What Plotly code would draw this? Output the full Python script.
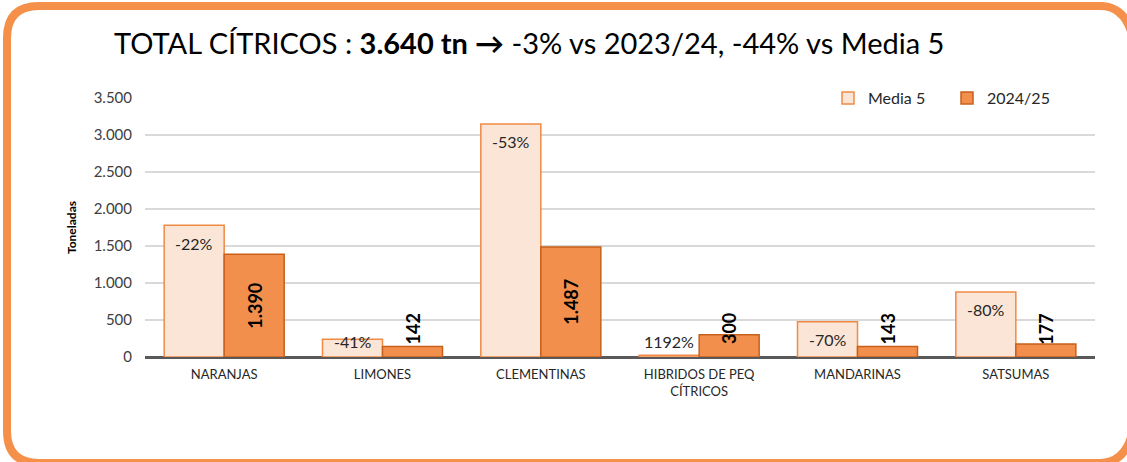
import plotly.graph_objects as go

categories = ["NARANJAS", "LIMONES", "CLEMENTINAS", "HIBRIDOS DE PEQ<br>CÍTRICOS", "MANDARINAS", "SATSUMAS"]
media5 = [1780, 240, 3150, 23, 475, 880]
campana = [1390, 142, 1487, 300, 143, 177]
pct_labels = ["-22%", "-41%", "-53%", "1192%", "-70%", "-80%"]
val_labels = ["1.390", "142", "1.487", "300", "143", "177"]
y_ticks = [0, 500, 1000, 1500, 2000, 2500, 3000, 3500]

W, H = 1127, 462
ML, MR, MT, MB = 145, 32, 98, 105
PW, PH = W - ML - MR, H - MT - MB

def px(x):
    return (x - ML) / PW

def py(y):
    return (H - MB - y) / PH

FONT = "Lato"

fig = go.Figure()
fig.add_trace(go.Bar(
    name="Media 5", x=categories, y=media5,
    marker=dict(color="#FBE5D6", line=dict(color="#F08A45", width=1.5)),
))
fig.add_trace(go.Bar(
    name="2024/25", x=categories, y=campana,
    marker=dict(color="#F28F4C", line=dict(color="#C8601C", width=1.5)),
))

for i, c in enumerate(categories):
    fig.add_annotation(x=c, y=max(media5[i], 459), xref="x", yref="y",
                       text=pct_labels[i], showarrow=False, xshift=-30, yshift=-18,
                       font=dict(family=FONT, size=16, color="#262626"))
    fig.add_annotation(x=c, y=max(campana[i] / 2, 380), xref="x", yref="y",
                       text="<b>" + val_labels[i] + "</b>", showarrow=False, xshift=30,
                       textangle=-90,
                       font=dict(family=FONT, size=18, color="#000000"))

fig.add_annotation(x=px(112), y=py(43), xref="paper", yref="paper", xanchor="left", yanchor="middle",
                   text="TOTAL CÍTRICOS : <b>3.640 tn →</b> -3% vs 2023/24, -44% vs Media 5",
                   showarrow=False, font=dict(family=FONT, size=29, color="#000000"))

# left part of the frame (top edge, left edge, bottom edge)
l, t, b, rad = 7, 6, 463, 32
rx, ry = rad / PW, rad / PH
path = (f"M {px(1104)} {py(t)} "
        f"L {px(l)+rx} {py(t)} Q {px(l)} {py(t)} {px(l)} {py(t)-ry} "
        f"L {px(l)} {py(b)+ry} Q {px(l)} {py(b)} {px(l)+rx} {py(b)} "
        f"L {px(1104)} {py(b)}")
fig.add_shape(type="path", path=path, xref="paper", yref="paper",
              line=dict(color="#F4904A", width=8), fillcolor="rgba(0,0,0,0)", layer="above")
# right corners (the right edge itself lies outside the view)
rr = 1136
path_r = (f"M {px(1100)} {py(t)} Q {px(rr)} {py(t)} {px(rr)} {py(t)-2*ry} "
          f"M {px(1100)} {py(b)} Q {px(rr)} {py(b)} {px(rr)} {py(b)+2*ry}")
fig.add_shape(type="path", path=path_r, xref="paper", yref="paper",
              line=dict(color="#F4904A", width=8), fillcolor="rgba(0,0,0,0)", layer="above")

fig.update_layout(
    width=W, height=H,
    margin=dict(l=ML, r=MR, t=MT, b=MB),
    paper_bgcolor="white", plot_bgcolor="white",
    barmode="group", bargap=0.242, bargroupgap=0,
    separators=",.",
    showlegend=True,
    legend=dict(orientation="h", x=px(828), y=1.0, xanchor="left", yanchor="middle",
                font=dict(family=FONT, size=16, color="#262626"),
                entrywidth=74, entrywidthmode="pixels",
                tracegroupgap=0, bgcolor="rgba(0,0,0,0)"),
    font=dict(family=FONT, color="#404040"),
)
fig.update_xaxes(showgrid=False, showline=False, ticks="", ticklabelstandoff=8,
                 tickfont=dict(family=FONT, size=13, color="#262626"))
fig.update_yaxes(range=[0, 3500], tickvals=y_ticks, tickformat=",d",
                 showgrid=True, gridcolor="#D9D9D9", gridwidth=1.5,
                 zeroline=True, zerolinecolor="#595959", zerolinewidth=2.5,
                 showline=False, ticks="", ticklen=0, ticklabelstandoff=12,
                 tickfont=dict(family=FONT, size=15, color="#404040"),
                 title=dict(text="<b>Toneladas</b>", font=dict(family=FONT, size=12, color="#000000"), standoff=14))

fig.write_html("out.html", config={"displayModeBar": False},
               post_script="document.body.style.margin='0';document.body.style.overflow='hidden';")
